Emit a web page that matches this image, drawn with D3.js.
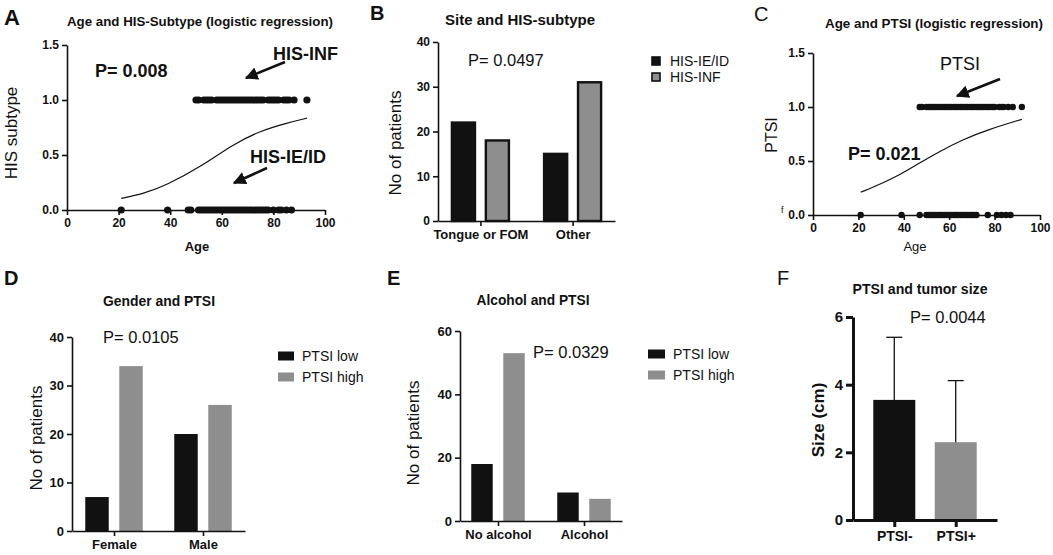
<!DOCTYPE html>
<html><head><meta charset="utf-8">
<script src="https://cdn.jsdelivr.net/npm/d3@7"></script>
<style>
body{margin:0;background:#fff;}
svg{display:block;font-family:"Liberation Sans",Arial,sans-serif;}
.tick text{font-weight:bold;}
</style></head><body>
<svg id="c" width="1053" height="555"></svg>
<script>
// ---------- DATA ----------
// Panel A: Age vs HIS subtype (1 = HIS-INF, 0 = HIS-IE/ID)
const ageHisInf = [50,51,53,54,55,56,58,59,60,61,62,63,64,65,66,67,68,69,70,71,72,73,74,75,76,78,79,80,81,82,84,85,86,88,93];
const ageHisIeid = [21,39,47,48,51,52,53,54,55,56,57,58,59,60,61,62,63,64,65,66,67,68,69,70,71,72,73,74,75,76,77,78,80,82,83,85,87];
const fitA = [[21,0.105],[30,0.15],[38.6,0.227],[51.6,0.39],[64.5,0.6],[75,0.72],[85,0.79],[93,0.835]];
// Panel C: Age vs PTSI
const agePtsiHigh = [47,48,50,51,52,53,54,55,56,57,58,59,60,61,62,63,64,65,66,67,68,69,70,71,72,73,74,75,76,77,78,79,80,82,83,84,86,88,92];
const agePtsiLow = [21,39,47,50,51,52,53,54,55,56,57,58,59,60,61,62,63,64,65,66,67,68,69,70,71,72,77,81,83,85,87];
const fitC = [[21,0.21],[30,0.29],[38,0.37],[46,0.47],[55,0.58],[66,0.7],[77,0.79],[92,0.886]];
const ageTicks = [0,20,40,60,80,100];
const probTicks = [0,0.5,1.0,1.5];
// Panel B
const siteCats = ["Tongue or FOM","Other"];
const hisSeries = ["HIS-IE/ID","HIS-INF"];
const siteIeid = [22,15];
const siteInf = [18,31];
const countTicks40 = [0,10,20,30,40];
// Panel D
const genderCats = ["Female","Male"];
const ptsiSeries = ["PTSI low","PTSI high"];
const genderLow = [7,20];
const genderHigh = [34,26];
// Panel E
const alcoholCats = ["No alcohol","Alcohol"];
const alcoholLow = [18,9];
const alcoholHigh = [53,7];
const countTicks60 = [0,20,40,60];
// Panel F
const sizeCats = ["PTSI-","PTSI+"];
const sizeMean = [3.55,2.3];
const sizeSD = [1.85,1.82];
const sizeTicks = [0,2,4,6];

// ---------- DRAW ----------
const svg = d3.select("#c");
svg.append("rect").attr("width",1053).attr("height",555).attr("fill","#fff");
const BLACK="#111", GRAY="#8e8e8e";

svg.append("defs").append("marker").attr("id","ah").attr("viewBox","0 0 10 10")
  .attr("refX",9).attr("refY",5).attr("markerWidth",5).attr("markerHeight",5)
  .attr("markerUnits","strokeWidth").attr("orient","auto")
  .append("path").attr("d","M0,0L10,5L0,10z").attr("fill",BLACK);

function txt(g,x,y,s,o={}){
  const t=g.append("text").attr("x",x).attr("y",y).text(s)
    .attr("font-size",o.size||14).attr("font-weight",o.bold?"bold":"normal")
    .attr("text-anchor",o.anchor||"start").attr("fill",BLACK);
  if(o.family) t.attr("font-family",o.family);
  if(o.len) t.attr("textLength",o.len).attr("lengthAdjust","spacingAndGlyphs");
  if(o.rot) t.attr("transform",`rotate(-90,${x},${y})`);
  return t;
}
function styleAxis(g,w,fs){
  g.selectAll(".domain").attr("stroke",BLACK).attr("stroke-width",w);
  g.selectAll(".tick line").attr("stroke",BLACK).attr("stroke-width",w);
  g.selectAll(".tick text").attr("font-size",fs).attr("fill",BLACK);
}
function arrow(g,x1,y1,x2,y2){
  g.append("line").attr("x1",x1).attr("y1",y1).attr("x2",x2).attr("y2",y2)
   .attr("stroke",BLACK).attr("stroke-width",2.6).attr("marker-end","url(#ah)");
}

// ---- scatter/logistic panels ----
function logisticPanel(cfg){
  const g=svg.append("g");
  const x=d3.scaleLinear().domain([0,100]).range(cfg.xr);
  const y=d3.scaleLinear().domain([0,1.5]).range(cfg.yr);
  const ax=g.append("g").attr("transform",`translate(0,${cfg.yr[0]})`)
    .call(d3.axisBottom(x).tickValues(ageTicks).tickSize(5).tickSizeOuter(0).tickFormat(d3.format("d")));
  styleAxis(ax,1.6,12);
  const ay=g.append("g").attr("transform",`translate(${cfg.xr[0]},0)`)
    .call(d3.axisLeft(y).tickValues(probTicks).tickSize(5).tickSizeOuter(0).tickFormat(d3.format(".1f")));
  styleAxis(ay,1.6,12);
  g.append("path").datum(cfg.fit).attr("fill","none").attr("stroke",BLACK).attr("stroke-width",1.2)
    .attr("d",d3.line().x(d=>x(d[0])).y(d=>y(d[1])).curve(d3.curveBasis));
  g.selectAll("c1").data(cfg.ones).enter().append("circle")
    .attr("cx",d=>x(d)).attr("cy",y(1)).attr("r",cfg.r).attr("fill",BLACK);
  g.selectAll("c0").data(cfg.zeros).enter().append("circle")
    .attr("cx",d=>x(d)).attr("cy",y(0)).attr("r",cfg.r).attr("fill",BLACK);
  return {g,x,y};
}

// Panel A
{
  const p=logisticPanel({xr:[67,325],yr:[210,45],ones:ageHisInf,zeros:ageHisIeid,fit:fitA,r:3.6});
  txt(svg,4,25,"A",{size:22,bold:true});
  txt(svg,200,26,"Age and HIS-Subtype (logistic regression)",{size:13.5,bold:true,anchor:"middle",len:266});
  txt(svg,17,133,"HIS subtype",{size:17,anchor:"middle",rot:true});
  txt(svg,197,251,"Age",{size:13,bold:true,anchor:"middle"});
  txt(svg,95,77,"P= 0.008",{size:18,bold:true});
  txt(svg,273,60,"HIS-INF",{size:18,bold:true});
  txt(svg,250,163,"HIS-IE/ID",{size:18,bold:true});
  arrow(svg,285,62,246,78);
  arrow(svg,267,168,234,183);
}
// Panel C
{
  const p=logisticPanel({xr:[813,1040],yr:[215,53],ones:agePtsiHigh,zeros:agePtsiLow,fit:fitC,r:3.2});
  txt(svg,754,21,"C",{size:20,bold:false});
  txt(svg,934,28,"Age and PTSI (logistic regression)",{size:12.5,bold:true,anchor:"middle",len:218});
  txt(svg,777,135,"PTSI",{size:16,anchor:"middle",rot:true});
  txt(svg,915,251,"Age",{size:13,anchor:"middle"});
  txt(svg,848,160,"P= 0.021",{size:18,bold:true});
  txt(svg,940,70,"PTSI",{size:18});
  arrow(svg,1000,79,957,96);
  txt(svg,781,213,"f",{size:9});
}

// ---- bar panels ----
function barPanel(cfg){
  const g=svg.append("g");
  const x=d3.scalePoint().domain(cfg.cats).range(cfg.xr).padding(cfg.pad);
  const x1=d3.scaleBand().domain(cfg.series).range(cfg.sub).paddingInner(cfg.subPad);
  const y=d3.scaleLinear().domain([0,cfg.max]).range(cfg.yr);
  const rows=[];
  cfg.cats.forEach((c,i)=>cfg.series.forEach((s,j)=>rows.push({c,s,v:cfg.values[j][i],j})));
  g.selectAll("rect.b").data(rows).enter().append("rect")
    .attr("x",d=>x(d.c)+x1(d.s)).attr("width",x1.bandwidth())
    .attr("y",d=>y(d.v)).attr("height",d=>y(0)-y(d.v))
    .attr("fill",d=>cfg.colors[d.j])
    .attr("stroke",cfg.stroke?BLACK:"none").attr("stroke-width",cfg.stroke||0);
  const ax=g.append("g").attr("transform",`translate(0,${cfg.yr[0]})`)
    .call(d3.axisBottom(x).tickSize(cfg.tick).tickSizeOuter(0).tickPadding(4));
  styleAxis(ax,cfg.aw,cfg.catSize);
  const ay=g.append("g").attr("transform",`translate(${cfg.xr[0]},0)`)
    .call(d3.axisLeft(y).tickValues(cfg.yticks).tickSize(cfg.tick).tickSizeOuter(0).tickFormat(d3.format("d")));
  styleAxis(ay,cfg.aw,cfg.tickSize);
  return {g,x,y,x1};
}
function legend(items,x,y0,dy,o){
  items.forEach((it,i)=>{
    svg.append("rect").attr("x",x).attr("y",y0+i*dy-o.h/2).attr("width",o.w).attr("height",o.h)
      .attr("fill",it.c).attr("stroke",o.stroke?BLACK:"none").attr("stroke-width",o.stroke||0);
    txt(svg,x+o.w+o.gap,y0+i*dy+5,it.t,{size:14});
  });
}

// Panel B
{
  barPanel({cats:siteCats,series:hisSeries,values:[siteIeid,siteInf],colors:[BLACK,GRAY],stroke:2.4,
    xr:[438,615],pad:0.46,sub:[-28.5,28.5],subPad:0.32,yr:[221,42],max:40,yticks:countTicks40,
    tick:5,aw:1.6,tickSize:12,catSize:13});
  txt(svg,370,20,"B",{size:20,bold:true});
  txt(svg,520,25,"Site and HIS-subtype",{size:14,bold:true,anchor:"middle",len:150});
  txt(svg,401,143,"No of patients",{size:17,anchor:"middle",rot:true});
  txt(svg,468,66,"P= 0.0497",{size:16.5});
  legend(hisSeries.map((t,i)=>({t,c:[BLACK,GRAY][i]})),652,61,16,{w:8,h:8,gap:10,stroke:1.6});
}
// Panel D
{
  barPanel({cats:genderCats,series:ptsiSeries,values:[genderLow,genderHigh],colors:[BLACK,GRAY],
    xr:[72,245],pad:0.472,sub:[-28.75,28.75],subPad:0.31,yr:[531,337],max:40,yticks:countTicks40,
    tick:5,aw:1.6,tickSize:13,catSize:13});
  txt(svg,4,285,"D",{size:20,bold:true});
  txt(svg,159,306,"Gender and PTSI",{size:14,bold:true,anchor:"middle",len:112});
  txt(svg,42,438,"No of patients",{size:17,anchor:"middle",rot:true});
  txt(svg,103,343,"P= 0.0105",{size:16.5});
  legend(ptsiSeries.map((t,i)=>({t,c:[BLACK,GRAY][i]})),278,356,21,{w:16,h:9,gap:8});
}
// Panel E
{
  barPanel({cats:alcoholCats,series:ptsiSeries,values:[alcoholLow,alcoholHigh],colors:[BLACK,GRAY],
    xr:[460,622],pad:0.442,sub:[-26.75,26.75],subPad:0.33,yr:[521,331],max:60,yticks:countTicks60,
    tick:5,aw:1.6,tickSize:13,catSize:13});
  txt(svg,387,285,"E",{size:20,bold:true});
  txt(svg,533,305,"Alcohol and PTSI",{size:14,bold:true,anchor:"middle",len:113});
  txt(svg,419,433,"No of patients",{size:17,anchor:"middle",rot:true});
  txt(svg,533,358,"P= 0.0329",{size:16.5});
  legend(ptsiSeries.map((t,i)=>({t,c:[BLACK,GRAY][i]})),648,354,21,{w:17,h:9,gap:8});
}
// Panel F
{
  const p=barPanel({cats:sizeCats,series:["m"],values:[sizeMean],colors:[BLACK],
    xr:[853,997],pad:0.672,sub:[-21,21],subPad:0,yr:[520,317],max:6,yticks:sizeTicks,
    tick:7,aw:3,tickSize:15,catSize:14});
  p.g.selectAll("rect").attr("fill",(d,i)=>i===0?BLACK:GRAY);
  const eb=sizeCats.map((c,i)=>({c,m:sizeMean[i],s:sizeSD[i]}));
  p.g.selectAll("line.eb").data(eb).enter().append("line")
    .attr("x1",d=>p.x(d.c)).attr("x2",d=>p.x(d.c)).attr("y1",d=>p.y(d.m)).attr("y2",d=>p.y(d.m+d.s))
    .attr("stroke",BLACK).attr("stroke-width",1.3);
  p.g.selectAll("line.cap").data(eb).enter().append("line")
    .attr("x1",d=>p.x(d.c)-8).attr("x2",d=>p.x(d.c)+8).attr("y1",d=>p.y(d.m+d.s)).attr("y2",d=>p.y(d.m+d.s))
    .attr("stroke",BLACK).attr("stroke-width",1.3);
  txt(svg,777,285,"F",{size:20});
  txt(svg,920,294,"PTSI and tumor size",{size:14,bold:true,anchor:"middle",len:135});
  txt(svg,824,420,"Size (cm)",{size:17,bold:true,anchor:"middle",rot:true});
  txt(svg,910,323,"P= 0.0044",{size:16.5});
}
</script></body></html>
